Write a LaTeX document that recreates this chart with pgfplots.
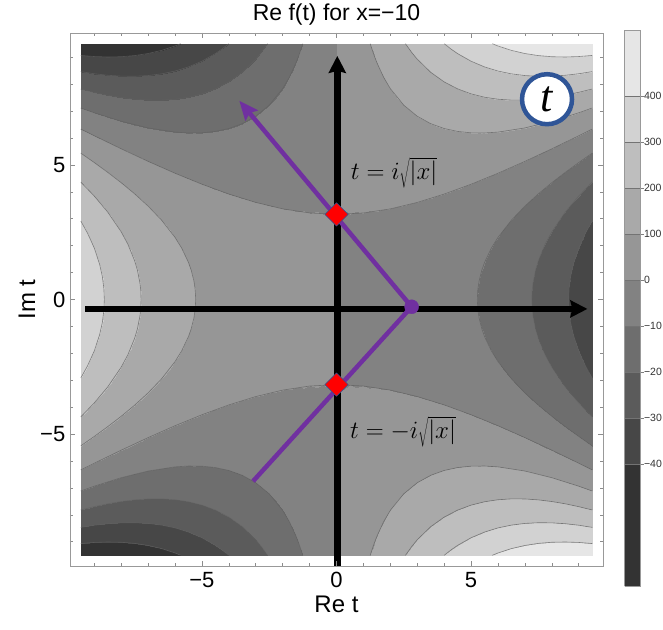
\documentclass[border=0pt]{standalone}
\usepackage{pgfplots}
\pgfplotsset{compat=1.18}
\usepackage{pgfplotstable}
\usepackage{fontspec}
\setmainfont{Liberation Sans}
\newfontfamily\serifit{Liberation Serif}
\usetikzlibrary{arrows.meta}

\definecolor{c0}{HTML}{333333}
\definecolor{c1}{HTML}{474747}
\definecolor{c2}{HTML}{5B5B5B}
\definecolor{c3}{HTML}{6E6E6E}
\definecolor{c4}{HTML}{828282}
\definecolor{c5}{HTML}{969696}
\definecolor{c6}{HTML}{A9A9A9}
\definecolor{c7}{HTML}{BEBEBE}
\definecolor{c8}{HTML}{D2D2D2}
\definecolor{c9}{HTML}{E6E6E6}
\definecolor{pathpurple}{HTML}{7030A0}
\definecolor{badgeblue}{HTML}{2F5597}

% Re f(t) on the quadrant a>=0, b>=0 (t = a + i b); other quadrants by symmetry
\pgfplotstableread{
a b z
0 0 0
0.5 0 -5.04
1 0 -10.33
1.5 0 -16.13
2 0 -22.67
2.5 0 -30.21
3 0 -39
3.5 0 -49.29
4 0 -61.33
4.5 0 -75.38
5 0 -91.67
5.5 0 -110.46
6 0 -132
6.5 0 -156.54
7 0 -184.33
7.5 0 -215.63
8 0 -250.67
8.5 0 -289.71
9 0 -333
9.5 0 -380.79
0 0.5 0
0.5 0.5 -4.92
1 0.5 -10.08
1.5 0.5 -15.75
2 0.5 -22.17
2.5 0.5 -29.58
3 0.5 -38.25
3.5 0.5 -48.42
4 0.5 -60.33
4.5 0.5 -74.25
5 0.5 -90.42
5.5 0.5 -109.08
6 0.5 -130.5
6.5 0.5 -154.92
7 0.5 -182.58
7.5 0.5 -213.75
8 0.5 -248.67
8.5 0.5 -287.58
9 0.5 -330.75
9.5 0.5 -378.42
0 1 0
0.5 1 -4.54
1 1 -9.33
1.5 1 -14.63
2 1 -20.67
2.5 1 -27.71
3 1 -36
3.5 1 -45.79
4 1 -57.33
4.5 1 -70.88
5 1 -86.67
5.5 1 -104.96
6 1 -126
6.5 1 -150.04
7 1 -177.33
7.5 1 -208.13
8 1 -242.67
8.5 1 -281.21
9 1 -324
9.5 1 -371.29
0 1.5 0
0.5 1.5 -3.92
1 1.5 -8.08
1.5 1.5 -12.75
2 1.5 -18.17
2.5 1.5 -24.58
3 1.5 -32.25
3.5 1.5 -41.42
4 1.5 -52.33
4.5 1.5 -65.25
5 1.5 -80.42
5.5 1.5 -98.08
6 1.5 -118.5
6.5 1.5 -141.92
7 1.5 -168.58
7.5 1.5 -198.75
8 1.5 -232.67
8.5 1.5 -270.58
9 1.5 -312.75
9.5 1.5 -359.42
0 2 0
0.5 2 -3.04
1 2 -6.33
1.5 2 -10.13
2 2 -14.67
2.5 2 -20.21
3 2 -27
3.5 2 -35.29
4 2 -45.33
4.5 2 -57.38
5 2 -71.67
5.5 2 -88.46
6 2 -108
6.5 2 -130.54
7 2 -156.33
7.5 2 -185.63
8 2 -218.67
8.5 2 -255.71
9 2 -297
9.5 2 -342.79
0 2.5 0
0.5 2.5 -1.92
1 2.5 -4.08
1.5 2.5 -6.75
2 2.5 -10.17
2.5 2.5 -14.58
3 2.5 -20.25
3.5 2.5 -27.42
4 2.5 -36.33
4.5 2.5 -47.25
5 2.5 -60.42
5.5 2.5 -76.08
6 2.5 -94.5
6.5 2.5 -115.92
7 2.5 -140.58
7.5 2.5 -168.75
8 2.5 -200.67
8.5 2.5 -236.58
9 2.5 -276.75
9.5 2.5 -321.42
0 3 0
0.5 3 -0.54
1 3 -1.33
1.5 3 -2.63
2 3 -4.67
2.5 3 -7.71
3 3 -12
3.5 3 -17.79
4 3 -25.33
4.5 3 -34.88
5 3 -46.67
5.5 3 -60.96
6 3 -78
6.5 3 -98.04
7 3 -121.33
7.5 3 -148.13
8 3 -178.67
8.5 3 -213.21
9 3 -252
9.5 3 -295.29
0 3.5 0
0.5 3.5 1.08
1 3.5 1.92
1.5 3.5 2.25
2 3.5 1.83
2.5 3.5 0.42
3 3.5 -2.25
3.5 3.5 -6.42
4 3.5 -12.33
4.5 3.5 -20.25
5 3.5 -30.42
5.5 3.5 -43.08
6 3.5 -58.5
6.5 3.5 -76.92
7 3.5 -98.58
7.5 3.5 -123.75
8 3.5 -152.67
8.5 3.5 -185.58
9 3.5 -222.75
9.5 3.5 -264.42
0 4 0
0.5 4 2.96
1 4 5.67
1.5 4 7.88
2 4 9.33
2.5 4 9.79
3 4 9
3.5 4 6.71
4 4 2.67
4.5 4 -3.38
5 4 -11.67
5.5 4 -22.46
6 4 -36
6.5 4 -52.54
7 4 -72.33
7.5 4 -95.63
8 4 -122.67
8.5 4 -153.71
9 4 -189
9.5 4 -228.79
0 4.5 0
0.5 4.5 5.08
1 4.5 9.92
1.5 4.5 14.25
2 4.5 17.83
2.5 4.5 20.42
3 4.5 21.75
3.5 4.5 21.58
4 4.5 19.67
4.5 4.5 15.75
5 4.5 9.58
5.5 4.5 0.92
6 4.5 -10.5
6.5 4.5 -24.92
7 4.5 -42.58
7.5 4.5 -63.75
8 4.5 -88.67
8.5 4.5 -117.58
9 4.5 -150.75
9.5 4.5 -188.42
0 5 0
0.5 5 7.46
1 5 14.67
1.5 5 21.38
2 5 27.33
2.5 5 32.29
3 5 36
3.5 5 38.21
4 5 38.67
4.5 5 37.13
5 5 33.33
5.5 5 27.04
6 5 18
6.5 5 5.96
7 5 -9.33
7.5 5 -28.13
8 5 -50.67
8.5 5 -77.21
9 5 -108
9.5 5 -143.29
0 5.5 0
0.5 5.5 10.08
1 5.5 19.92
1.5 5.5 29.25
2 5.5 37.83
2.5 5.5 45.42
3 5.5 51.75
3.5 5.5 56.58
4 5.5 59.67
4.5 5.5 60.75
5 5.5 59.58
5.5 5.5 55.92
6 5.5 49.5
6.5 5.5 40.08
7 5.5 27.42
7.5 5.5 11.25
8 5.5 -8.67
8.5 5.5 -32.58
9 5.5 -60.75
9.5 5.5 -93.42
0 6 0
0.5 6 12.96
1 6 25.67
1.5 6 37.88
2 6 49.33
2.5 6 59.79
3 6 69
3.5 6 76.71
4 6 82.67
4.5 6 86.63
5 6 88.33
5.5 6 87.54
6 6 84
6.5 6 77.46
7 6 67.67
7.5 6 54.38
8 6 37.33
8.5 6 16.29
9 6 -9
9.5 6 -38.79
0 6.5 0
0.5 6.5 16.08
1 6.5 31.92
1.5 6.5 47.25
2 6.5 61.83
2.5 6.5 75.42
3 6.5 87.75
3.5 6.5 98.58
4 6.5 107.67
4.5 6.5 114.75
5 6.5 119.58
5.5 6.5 121.92
6 6.5 121.5
6.5 6.5 118.08
7 6.5 111.42
7.5 6.5 101.25
8 6.5 87.33
8.5 6.5 69.42
9 6.5 47.25
9.5 6.5 20.58
0 7 0
0.5 7 19.46
1 7 38.67
1.5 7 57.38
2 7 75.33
2.5 7 92.29
3 7 108
3.5 7 122.21
4 7 134.67
4.5 7 145.13
5 7 153.33
5.5 7 159.04
6 7 162
6.5 7 161.96
7 7 158.67
7.5 7 151.88
8 7 141.33
8.5 7 126.79
9 7 108
9.5 7 84.71
0 7.5 0
0.5 7.5 23.08
1 7.5 45.92
1.5 7.5 68.25
2 7.5 89.83
2.5 7.5 110.42
3 7.5 129.75
3.5 7.5 147.58
4 7.5 163.67
4.5 7.5 177.75
5 7.5 189.58
5.5 7.5 198.92
6 7.5 205.5
6.5 7.5 209.08
7 7.5 209.42
7.5 7.5 206.25
8 7.5 199.33
8.5 7.5 188.42
9 7.5 173.25
9.5 7.5 153.58
0 8 0
0.5 8 26.96
1 8 53.67
1.5 8 79.88
2 8 105.33
2.5 8 129.79
3 8 153
3.5 8 174.71
4 8 194.67
4.5 8 212.63
5 8 228.33
5.5 8 241.54
6 8 252
6.5 8 259.46
7 8 263.67
7.5 8 264.38
8 8 261.33
8.5 8 254.29
9 8 243
9.5 8 227.21
0 8.5 0
0.5 8.5 31.08
1 8.5 61.92
1.5 8.5 92.25
2 8.5 121.83
2.5 8.5 150.42
3 8.5 177.75
3.5 8.5 203.58
4 8.5 227.67
4.5 8.5 249.75
5 8.5 269.58
5.5 8.5 286.92
6 8.5 301.5
6.5 8.5 313.08
7 8.5 321.42
7.5 8.5 326.25
8 8.5 327.33
8.5 8.5 324.42
9 8.5 317.25
9.5 8.5 305.58
0 9 0
0.5 9 35.46
1 9 70.67
1.5 9 105.38
2 9 139.33
2.5 9 172.29
3 9 204
3.5 9 234.21
4 9 262.67
4.5 9 289.13
5 9 313.33
5.5 9 335.04
6 9 354
6.5 9 369.96
7 9 382.67
7.5 9 391.88
8 9 397.33
8.5 9 398.79
9 9 396
9.5 9 388.71
0 9.5 0
0.5 9.5 40.08
1 9.5 79.92
1.5 9.5 119.25
2 9.5 157.83
2.5 9.5 195.42
3 9.5 231.75
3.5 9.5 266.58
4 9.5 299.67
4.5 9.5 330.75
5 9.5 359.58
5.5 9.5 385.92
6 9.5 409.5
6.5 9.5 430.08
7 9.5 447.42
7.5 9.5 461.25
8 9.5 471.33
8.5 9.5 477.42
9 9.5 479.25
9.5 9.5 476.58
}\griddata

% contour lines (levels 0, +-100, ..., +-300, 400) in the quadrant a>=0, b>=0
\pgfplotstableread{
a b
0 3.162
1 3.215
2 3.366
3 3.606
4 3.916
5 4.282
6 4.690
7 5.132
8 5.598
9 6.083
9.5 6.331
nan nan
1.254 9.5
1.3 9.354
1.4 9.060
1.5 8.799
1.75 8.256
2 7.832
2.5 7.217
3 6.807
3.5 6.531
4 6.351
4.5 6.243
5 6.191
5.5 6.186
6 6.218
7 6.373
8 6.621
9 6.936
9.5 7.114
nan nan
2.562 9.5
2.8 9.168
3 8.926
3.5 8.439
4 8.083
4.5 7.823
5 7.638
5.5 7.513
6 7.439
6.5 7.406
7 7.410
7.5 7.444
8 7.506
8.5 7.590
9 7.696
9.5 7.819
nan nan
4.005 9.5
4.25 9.306
4.5 9.133
5 8.851
5.5 8.639
6 8.485
6.5 8.381
7 8.318
7.5 8.292
8 8.297
8.5 8.329
9 8.386
9.5 8.465
nan nan
5.79 9.5
6 9.416
6.5 9.253
7 9.137
7.5 9.060
8 9.018
8.5 9.008
9 9.025
9.5 9.066
nan nan
5.23 0
5.25 0.374
5.3 0.704
5.4 1.096
5.5 1.379
5.75 1.905
6 2.309
6.5 2.949
7 3.471
7.5 3.926
8 4.340
8.5 4.724
9 5.088
9.5 5.437
nan nan
7.258 0
7.27 0.327
7.3 0.605
7.4 1.107
7.5 1.443
7.75 2.053
8 2.517
8.5 3.249
9 3.844
9.5 4.362
nan nan
8.624 0
8.64 0.401
8.7 0.864
8.8 1.312
9 1.915
9.25 2.468
9.5 2.916
}\contlines

\begin{document}
\begin{tikzpicture}
\path[use as bounding box] (-70pt,-63pt) rectangle (593pt,566pt);
\begin{axis}[
  at={(0pt,0pt)}, anchor=south west,
  scale only axis, width=533pt, height=533pt,
  xmin=-9.9, xmax=9.9, ymin=-9.9, ymax=9.9,
  axis on top,
  xtick={-5,0,5}, ytick={-5,0,5},
  xticklabels={−5,0,5}, yticklabels={−5,0,5},
  minor xtick={-9,-8,...,9}, minor ytick={-9,-8,...,9},
  tick align=inside,
  major tick length=5pt, minor tick length=3.3pt,
  every tick/.style={color=black!45, line width=0.6pt},
  axis line style={color=black!40, line width=0.8pt},
  tick label style={font=\fontsize{22}{22}\selectfont, inner sep=0pt},
  xticklabel style={yshift=-6pt},
  yticklabel style={xshift=-4.5pt},
  xlabel={Re t}, ylabel={Im t},
  label style={font=\fontsize{24}{24}\selectfont},
  xlabel style={at={(axis description cs:0.5,-0.0713)}, anchor=center},
  ylabel style={at={(axis description cs:-0.0807,0.5)}, anchor=center, rotate=0},
  title={Re f(t) for x=−10},
  title style={at={(axis description cs:0.5,1.0225)}, anchor=center, font=\fontsize{23}{23}\selectfont},
  colormap={contgray}{
    color(0pt)=(c0) color(26.5pt)=(c1) color(36.5pt)=(c2) color(46.5pt)=(c3)
    color(56.5pt)=(c4) color(66.5pt)=(c5) color(76.5pt)=(c6) color(86.5pt)=(c7)
    color(96.5pt)=(c8) color(106.5pt)=(c9) color(120.7pt)=(c9)
  },
  colormap access=piecewise constant,
  point meta min=-665, point meta max=542,
  colorbar,
  colorbar style={
    at={(parent axis.north east)}, anchor=north west,
    xshift=13pt, yshift=2.6pt,
    scale only axis, width=16pt, height=556pt,
    ytick={-400,-300,-200,-100,0,100,200,300,400},
    yticklabels={−40,−30,−20,−10,0,100,200,300,400},
    yticklabel style={font=\fontsize{10.5}{10.5}\selectfont, color=black!80, inner sep=0.3pt, xshift=0pt},
    ytick pos=right,
    major tick length=3pt, tick align=outside,
    every tick/.style={color=black!50, line width=0.5pt},
    ymajorgrids, grid style={color=black!55, line width=0.5pt},
    axis line style={color=black!40, line width=0.6pt},
  },
]
% filled contours (four quadrants by symmetry of the table)
\addplot[surf, shader=interp, mesh/rows=20, mesh/cols=20,
  point meta=\thisrow{z}] table[x=a, y=b] {\griddata};
\addplot[surf, shader=interp, mesh/rows=20, mesh/cols=20,
  point meta=\thisrow{z}] table[x=a, y expr=-\thisrow{b}] {\griddata};
\addplot[surf, shader=interp, mesh/rows=20, mesh/cols=20,
  point meta={-\thisrow{z}}] table[x expr=-\thisrow{a}, y=b] {\griddata};
\addplot[surf, shader=interp, mesh/rows=20, mesh/cols=20,
  point meta={-\thisrow{z}}] table[x expr=-\thisrow{a}, y expr=-\thisrow{b}] {\griddata};

% contour lines
\pgfplotsset{contline/.style={black!62, line width=0.6pt, opacity=0.75, unbounded coords=jump, line join=round}}
\addplot[contline] table[x=a, y=b] {\contlines};
\addplot[contline] table[x=a, y expr=-\thisrow{b}] {\contlines};
\addplot[contline] table[x expr=-\thisrow{a}, y=b] {\contlines};
\addplot[contline] table[x expr=-\thisrow{a}, y expr=-\thisrow{b}] {\contlines};

% black coordinate axes
\addplot[black, line width=6.5pt, -{Stealth[length=17pt,width=17pt,inset=2pt]}]
  coordinates {(-9.33,-0.35) (9.32,-0.35)};
\addplot[black, line width=6.5pt, -{Stealth[length=17pt,width=17pt,inset=2pt]}]
  coordinates {(0.03,-9.9) (0.03,9.05)};

% steepest-descent path
\addplot[pathpurple, line width=4.5pt, line join=round]
  coordinates {(-3.10,-6.75) (2.79,-0.27)};
\addplot[pathpurple, line width=4.5pt, -{Stealth[length=19pt,width=16pt,inset=3pt]}]
  coordinates {(2.79,-0.27) (-3.61,7.38)};
\addplot[only marks, mark=*, mark size=7pt, color=pathpurple]
  coordinates {(2.79,-0.27)};

% saddle points
\addplot[only marks, mark=square*, mark size=8.2pt,
  mark options={rotate=45, fill=red, draw=badgeblue, line width=0.5pt}]
  coordinates {(0,3.16) (0,-3.16)};

\node[font=\fontsize{24}{24}\selectfont] at (axis cs:2.14,4.70) {$t = i\sqrt{|x|}$};
\node[font=\fontsize{24}{24}\selectfont] at (axis cs:2.47,-4.92) {$t = -i\sqrt{|x|}$};

\node[circle, draw=badgeblue, line width=4.5pt, fill=white, minimum size=50pt,
  inner sep=0pt, font=\serifit\itshape\fontsize{44}{44}\selectfont] at (axis cs:7.82,7.44) {t\/};
\end{axis}
\end{tikzpicture}
\end{document}
